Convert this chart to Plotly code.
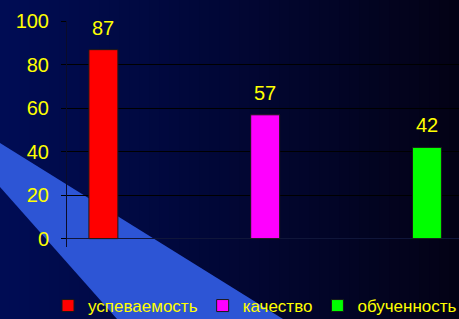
import plotly.graph_objects as go

categories = ["успеваемость", "качество", "обученность"]
values = [87, 57, 42]
colors = ["#ff0000", "#ff00ff", "#00ff00"]
y_ticks = [0, 20, 40, 60, 80, 100]

W, H = 459, 319
ML, MR, MT, MB = 67, 0, 21, 72
PW, PH = W - ML - MR, H - MT - MB

def px2paper(px, py):
    return (px - ML) / PW, (H - MB - py) / PH

FONT = "Liberation Sans, Arial, sans-serif"
YEL = "#ffff00"

fig = go.Figure()
for i, (cat, val, col) in enumerate(zip(categories, values, colors)):
    fig.add_trace(go.Bar(
        x=[i], y=[val], name=cat, width=0.179,
        marker=dict(color=col, line=dict(color="#1a1a1a", width=1)),
        hoverinfo="skip",
    ))
    fig.add_annotation(x=i, y=val, text=str(val), showarrow=False,
                       yanchor="bottom", yshift=9,
                       font=dict(family=FONT, size=20, color=YEL))

shapes = []
# background gradient (left navy -> right near-black)
N = 46
c0, c1 = (0, 12, 84), (3, 2, 22)
x0p, _ = px2paper(0, 0)
x1p, _ = px2paper(W, 0)
_, ytop = px2paper(0, 0)
_, ybot = px2paper(0, H)
for k in range(N):
    t = k / (N - 1)
    c = tuple(round(a + (b - a) * t) for a, b in zip(c0, c1))
    xa = x0p + (x1p - x0p) * k / N
    xb = x0p + (x1p - x0p) * (k + 1) / N + 0.002
    shapes.append(dict(type="rect", xref="paper", yref="paper", x0=xa, x1=xb,
                       y0=ybot, y1=ytop, fillcolor="rgb(%d,%d,%d)" % c,
                       line=dict(width=0), layer="below"))
# light-blue diagonal band
pts = [(0, 143), (283, 319), (117, 319), (0, 187)]
pp = [px2paper(x, y) for x, y in pts]
path = "M " + " L ".join("%.4f,%.4f" % p for p in pp) + " Z"
shapes.append(dict(type="path", xref="paper", yref="paper", path=path,
                   fillcolor="#2d55d5", line=dict(width=0), layer="below"))

lx, _ = px2paper(48, 0)
_, ly = px2paper(0, H + 5)

fig.update_layout(
    width=W, height=H,
    margin=dict(l=ML, r=MR, t=MT, b=MB, pad=0, autoexpand=False),
    paper_bgcolor="#000640",
    plot_bgcolor="rgba(0,0,0,0)",
    barmode="overlay",
    shapes=shapes,
    showlegend=True,
    legend=dict(orientation="h", x=lx, xanchor="left", y=ly, yanchor="bottom",
                font=dict(family=FONT, size=17, color=YEL),
                bgcolor="rgba(0,0,0,0)", itemwidth=30, tracegroupgap=0,
                traceorder="normal"),
    xaxis=dict(range=[-0.225, 2.198], showticklabels=False, showgrid=False,
               zeroline=False, showline=False, ticks="", automargin=False),
    yaxis=dict(range=[-3.86, 100.2], tickvals=y_ticks, ticktext=[str(v) for v in y_ticks],
               tickfont=dict(family=FONT, size=20, color=YEL),
               showgrid=True, gridcolor="#000000", gridwidth=1,
               zeroline=True, zerolinecolor="#10163a", zerolinewidth=1,
               showline=True, linecolor="#0a0c2a", linewidth=1,
               ticks="outside", ticklen=5, tickcolor="#000000",
               ticklabelstandoff=8, automargin=False),
)

fig.write_html("out.html", config={"displayModeBar": False},
               post_script="document.body.style.margin='0';document.body.style.padding='0';")
